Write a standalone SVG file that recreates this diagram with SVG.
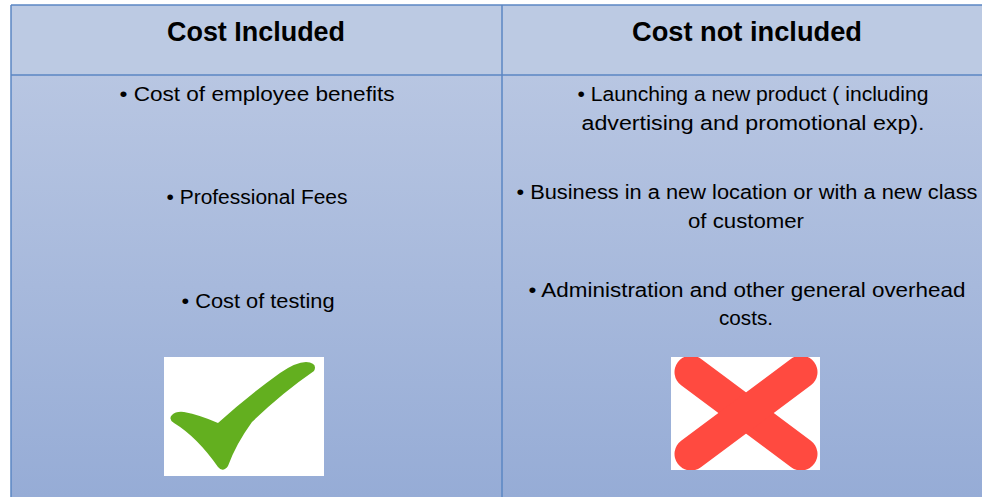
<svg xmlns="http://www.w3.org/2000/svg" width="982" height="497" viewBox="0 0 982 497">
<defs>
<linearGradient id="bodyGrad" x1="0" y1="0" x2="0" y2="1">
<stop offset="0" stop-color="#B8C6E2"/>
<stop offset="1" stop-color="#96ACD6"/>
</linearGradient>
<clipPath id="xClip"><rect x="671" y="357" width="149" height="113"/></clipPath>
</defs>
<style>
.hdr{font-family:"Liberation Sans",Arial,sans-serif;font-weight:bold;font-size:28px;fill:#000;text-anchor:middle}
.txt{font-family:"Liberation Sans",Arial,sans-serif;font-size:19.5px;fill:#000;text-anchor:middle}
.grid{stroke:#5B86C4;stroke-width:1.5;fill:none}
</style>
<rect width="982" height="497" fill="#FFFFFF"/>
<g id="table">
<rect x="11" y="5" width="971" height="70" fill="#BCCAE3"/>
<rect x="11" y="75" width="971" height="422" fill="url(#bodyGrad)"/>
<path class="grid" d="M11 5H982M11 75H982M11 5V497M502 5V497"/>
</g>
<g id="header-included">
<text class="hdr" x="256" y="41" textLength="178" lengthAdjust="spacingAndGlyphs">Cost Included</text>
</g>
<g id="header-not-included">
<text class="hdr" x="747" y="41" textLength="230" lengthAdjust="spacingAndGlyphs">Cost not included</text>
</g>
<g id="included-items">
<text class="txt" x="257" y="101" textLength="275" lengthAdjust="spacingAndGlyphs">• Cost of employee  benefits</text>
<text class="txt" x="257" y="204" textLength="181" lengthAdjust="spacingAndGlyphs">• Professional Fees</text>
<text class="txt" x="258" y="308" textLength="153" lengthAdjust="spacingAndGlyphs">• Cost of testing</text>
</g>
<g id="not-included-items">
<text class="txt" x="753" y="101" textLength="351" lengthAdjust="spacingAndGlyphs">• Launching a new product ( including</text>
<text class="txt" x="753" y="130" textLength="343" lengthAdjust="spacingAndGlyphs">advertising and promotional exp).</text>
<text class="txt" x="747" y="199" textLength="461" lengthAdjust="spacingAndGlyphs">• Business in a new location or with a new class</text>
<text class="txt" x="746" y="228" textLength="116" lengthAdjust="spacingAndGlyphs">of customer</text>
<text class="txt" x="747" y="297" textLength="437" lengthAdjust="spacingAndGlyphs">• Administration and other general overhead</text>
<text class="txt" x="746" y="325" textLength="54" lengthAdjust="spacingAndGlyphs">costs.</text>
</g>
<g id="check-icon">
<rect x="164" y="357" width="160" height="119" fill="#FFFFFF"/>
<path fill="#63AF1F" d="M172 415 Q176 411 184 412 Q200 415 218 423 Q248 396 280 373 Q296 362 306 362 Q318 363 314 371 Q282 393 252 422 Q236 444 228 466 Q223 473 218 467 Q197 437 174 423 Q168 419 172 415 Z"/>
</g>
<g id="cross-icon">
<rect x="671" y="357" width="149" height="113" fill="#FFFFFF"/>
<g clip-path="url(#xClip)" stroke="#FF4A40" stroke-width="33" stroke-linecap="round">
<line x1="691" y1="372" x2="801" y2="454"/>
<line x1="801" y1="372" x2="691" y2="454"/>
</g>
</g>
</svg>
